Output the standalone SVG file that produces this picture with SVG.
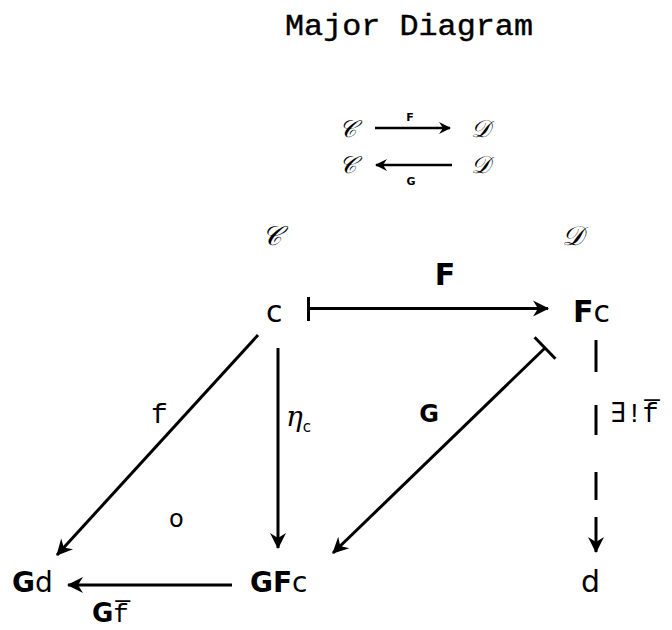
<svg xmlns="http://www.w3.org/2000/svg" width="672" height="630" viewBox="0 0 672 630">
<style>
.mono{font-family:"Liberation Mono","DejaVu Sans Mono",monospace;fill:#000}
.sans{font-family:"DejaVu Sans","Liberation Sans",sans-serif;fill:#000}
.bold{font-family:"DejaVu Sans","Liberation Sans",sans-serif;font-weight:bold;fill:#000}
.scr{font-family:"DejaVu Serif","Liberation Serif",serif;font-style:italic;fill:#000}
.ln{stroke:#000;stroke-width:3;fill:none}
.lns{stroke:#000;stroke-width:2.5;fill:none}
</style>
<defs>
<marker id="ah" viewBox="-17 -10 19 20" refX="0" refY="0" markerWidth="19" markerHeight="20" orient="auto" markerUnits="userSpaceOnUse">
<path d="M1,0 L-15,-8 L-10,0 L-15,8 Z" fill="#000"/>
</marker>
<marker id="ahs" viewBox="-13 -8 15 16" refX="0" refY="0" markerWidth="15" markerHeight="16" orient="auto" markerUnits="userSpaceOnUse">
<path d="M1,0 L-11,-6 L-7,0 L-11,6 Z" fill="#000"/>
</marker>
</defs>
<rect width="672" height="630" fill="#fff"/>
<text class="mono" x="285" y="35" font-size="30" textLength="248" lengthAdjust="spacingAndGlyphs" stroke="#000" stroke-width="0.4">Major Diagram</text>

<g id="mini">
<text class="scr" x="347" y="137" font-size="24" text-anchor="middle">𝒞</text>
<text class="scr" x="480" y="137" font-size="24" text-anchor="middle">𝒟</text>
<text class="scr" x="347" y="173" font-size="24" text-anchor="middle">𝒞</text>
<text class="scr" x="480" y="173" font-size="24" text-anchor="middle">𝒟</text>
<line class="lns" x1="375" y1="128" x2="450" y2="128" marker-end="url(#ahs)"/>
<line class="lns" x1="452" y1="165" x2="376" y2="165" marker-end="url(#ahs)"/>
<text class="bold" x="410" y="121" font-size="11" text-anchor="middle">F</text>
<text class="bold" x="411" y="185" font-size="11" text-anchor="middle">G</text>
</g>

<g id="catC"><text class="scr" x="272" y="245" font-size="27" text-anchor="middle">𝒞</text></g>
<g id="catD"><text class="scr" x="573" y="245" font-size="27" text-anchor="middle">𝒟</text></g>

<g id="node-c"><text class="sans" x="266" y="322" font-size="30">c</text></g>
<g id="node-Fc"><text x="573" y="322" font-size="30"><tspan class="bold">F</tspan><tspan class="sans">c</tspan></text></g>
<g id="node-Gd"><text x="12" y="592" font-size="28"><tspan class="bold">G</tspan><tspan class="sans">d</tspan></text></g>
<g id="node-GFc"><text x="250" y="592" font-size="28"><tspan class="bold">GF</tspan><tspan class="sans">c</tspan></text></g>
<g id="node-d"><text class="sans" x="581" y="592" font-size="30">d</text></g>
<g id="compose"><text class="sans" x="169" y="527" font-size="24">o</text></g>

<g id="connectors">
<line class="ln" x1="308.5" y1="297" x2="308.5" y2="321"/>
<line class="ln" x1="308" y1="308.5" x2="548" y2="308.5" marker-end="url(#ah)"/>
<line class="ln" x1="258" y1="335" x2="57" y2="555" marker-end="url(#ah)"/>
<line class="ln" x1="278" y1="348" x2="278" y2="548" marker-end="url(#ah)"/>
<line class="ln" x1="534.6" y1="337.2" x2="555.4" y2="358.8"/>
<line class="ln" x1="545" y1="348" x2="333" y2="553" marker-end="url(#ah)"/>
<line class="ln" x1="596" y1="340" x2="596" y2="372"/>
<line class="ln" x1="596" y1="405" x2="596" y2="435"/>
<line class="ln" x1="596" y1="472" x2="596" y2="500"/>
<line class="ln" x1="596" y1="517" x2="596" y2="552" marker-end="url(#ah)"/>
<line class="ln" x1="232" y1="585" x2="68" y2="585" marker-end="url(#ah)"/>
</g>

<g id="labels">
<text class="bold" x="445" y="285" font-size="30" text-anchor="middle">F</text>
<text class="mono" x="151" y="423" font-size="28">f</text>
<text x="286" y="426" font-size="28"><tspan class="scr">η</tspan><tspan class="sans" font-size="15" dy="6">c</tspan></text>
<text class="bold" x="429" y="422" font-size="24" text-anchor="middle">G</text>
<text class="mono" x="610" y="422" font-size="27">∃!f̅</text>
<text x="92" y="622" font-size="26"><tspan class="bold">G</tspan><tspan class="mono">f̅</tspan></text>
</g>
</svg>
